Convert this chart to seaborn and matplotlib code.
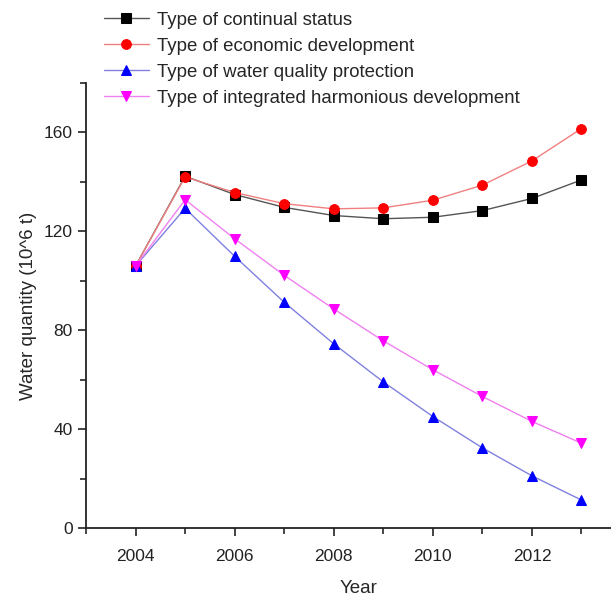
import pandas as pd
import numpy as np
import matplotlib
matplotlib.use("Agg")
import matplotlib.pyplot as plt
import seaborn as sns
from matplotlib.ticker import MultipleLocator

sns.set_theme(style="ticks")
plt.rcParams["font.family"] = ["Liberation Sans", "DejaVu Sans"]

# ------------------------------------------------------------
# DATA
# ------------------------------------------------------------
years = [2004, 2005, 2006, 2007, 2008, 2009, 2010, 2011, 2012, 2013]
continual = [106.0, 142.3, 134.9, 129.7, 126.4, 125.1, 125.7, 128.4, 133.3, 140.8]
economic = [106.0, 142.0, 135.7, 131.2, 129.1, 129.5, 132.6, 138.7, 148.5, 161.6]
water_quality = [106.0, 129.3, 109.9, 91.3, 74.5, 59.1, 45.1, 32.4, 21.1, 11.3]
integrated = [106.0, 132.8, 117.0, 102.2, 88.6, 75.7, 64.0, 53.2, 43.1, 34.3]

series_names = ["Type of continual status", "Type of economic development",
                "Type of water quality protection", "Type of integrated harmonious development"]
series_vals = [continual, economic, water_quality, integrated]
marker_colors = ["#000000", "#ff0000", "#0000ff", "#ff00ff"]
line_colors = ["#555555", "#f08080", "#8080e0", "#f080f0"]
markers = ["s", "o", "^", "v"]

# ------------------------------------------------------------
# PLOT
# ------------------------------------------------------------
fig = plt.figure(figsize=(6.11, 5.96), dpi=100)
ax = fig.add_axes([0.1408, 0.1141, 0.892, 0.7466])

for name, vals, mc, lc, mk in zip(series_names, series_vals, marker_colors, line_colors, markers):
    df = pd.DataFrame({"Year": years, "value": vals})
    sns.lineplot(data=df, x="Year", y="value", ax=ax, color=lc, linewidth=1.0,
                 marker=mk, markersize=7, markerfacecolor=mc, markeredgecolor=mc,
                 label=name, clip_on=False)

ax.set_xlim(2003, 2014)
ax.set_ylim(0, 180)
ax.xaxis.set_minor_locator(MultipleLocator(1))
ax.yaxis.set_minor_locator(MultipleLocator(20))
ax.set_yticks([0, 40, 80, 120, 160])
ax.set_xticks([2004, 2006, 2008, 2010, 2012])
ax.tick_params(axis="both", which="major", direction="out", length=6, width=1.2,
               labelsize=12.5, colors="#222222", bottom=True, left=True)
ax.tick_params(axis="x", which="major", pad=9)
ax.tick_params(axis="both", which="minor", direction="out", length=4, width=1.2,
               bottom=True, left=True)
for s in ["top", "right"]:
    ax.spines[s].set_visible(False)
for s in ["left", "bottom"]:
    ax.spines[s].set_linewidth(1.3)
    ax.spines[s].set_color("#222222")

ax.set_xlabel("Year", fontsize=13.5, labelpad=12)
ax.set_ylabel("Water quantity (10^6 t)", fontsize=13.5, labelpad=5)

ax.get_legend().remove()
handles, labels = ax.get_legend_handles_labels()
fig.legend(handles, labels, loc="upper left", bbox_to_anchor=(0.143, 1.008),
           frameon=False, fontsize=13.4, handlelength=2.4, labelspacing=0.48,
           handletextpad=0.45)

fig.savefig("out.png", dpi=100)
